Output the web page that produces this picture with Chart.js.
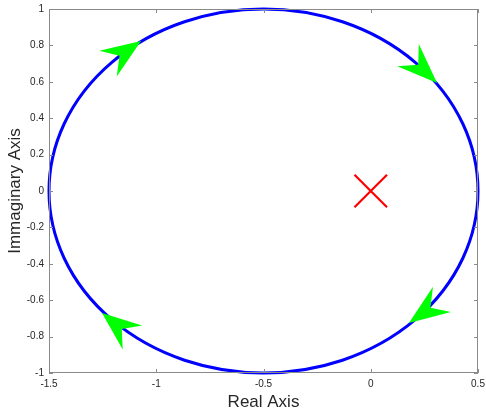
<!DOCTYPE html>
<html>
<head>
<meta charset="utf-8">
<script src="https://cdn.jsdelivr.net/npm/chart.js@4.4.0/dist/chart.umd.min.js"></script>
<style>
  html, body { margin: 0; padding: 0; background: #ffffff; }
  #wrap { width: 486px; height: 413px; }
</style>
</head>
<body>
<div id="wrap"><canvas id="c" width="486" height="413"></canvas></div>
<script>
// Axis ticks
const xTicks = [-1.5, -1, -0.5, 0, 0.5];
const yTicks = [-1, -0.8, -0.6, -0.4, -0.2, 0, 0.2, 0.4, 0.6, 0.8, 1];

// Nyquist contour: circle centre and radius (data units)
const circleCenter = [-0.5, 0];
const circleRadius = 1;

// Pole marker
const poleX = [0];
const poleY = [0];

// Direction arrows along the contour: tip and base point of each head
const arrowTipX  = [-1.071, 0.309, 0.178, -1.253];
const arrowTipY  = [ 0.824, 0.593, -0.725, -0.670];
const arrowBaseX = [-1.225, 0.174, 0.332, -1.111];
const arrowBaseY = [ 0.700, 0.747, -0.596, -0.805];

const AXIS_COLOR = '#8a8a8a';
const TEXT_COLOR = '#262626';

// Box around the plot with inward ticks on all four sides
const boxPlugin = {
  id: 'boxTicks',
  afterDraw(chart) {
    const { ctx, chartArea: a, scales } = chart;
    const xs = scales.x, ys = scales.y;
    const len = 4;
    ctx.save();
    ctx.strokeStyle = AXIS_COLOR;
    ctx.lineWidth = 1;
    ctx.strokeRect(a.left + 0.5, a.top + 0.5, a.right - a.left - 1, a.bottom - a.top - 1);
    ctx.beginPath();
    xTicks.forEach(v => {
      const px = Math.round(xs.getPixelForValue(v)) + 0.5;
      ctx.moveTo(px, a.bottom); ctx.lineTo(px, a.bottom - len);
      ctx.moveTo(px, a.top); ctx.lineTo(px, a.top + len);
    });
    yTicks.forEach(v => {
      const py = Math.round(ys.getPixelForValue(v)) + 0.5;
      ctx.moveTo(a.left, py); ctx.lineTo(a.left + len, py);
      ctx.moveTo(a.right, py); ctx.lineTo(a.right - len, py);
    });
    ctx.stroke();
    ctx.restore();
  }
};

// Contour circle and arrow heads, positioned through the scales
const contourPlugin = {
  id: 'contour',
  afterDatasetsDraw(chart) {
    const { ctx, scales } = chart;
    const xs = scales.x, ys = scales.y;
    const cx = xs.getPixelForValue(circleCenter[0]);
    const cy = ys.getPixelForValue(circleCenter[1]);
    const rx = Math.abs(xs.getPixelForValue(circleCenter[0] + circleRadius) - cx);
    const ry = Math.abs(ys.getPixelForValue(circleCenter[1] + circleRadius) - cy);
    ctx.save();
    ctx.strokeStyle = '#0000ff';
    ctx.lineWidth = 3;
    ctx.beginPath();
    ctx.ellipse(cx, cy, rx, ry, 0, 0, Math.PI * 2);
    ctx.stroke();

    ctx.fillStyle = '#00ff00';
    const halfW = 15.5;
    for (let i = 0; i < arrowTipX.length; i++) {
      const tx = xs.getPixelForValue(arrowTipX[i]);
      const ty = ys.getPixelForValue(arrowTipY[i]);
      const bx = xs.getPixelForValue(arrowBaseX[i]);
      const by = ys.getPixelForValue(arrowBaseY[i]);
      const dx = tx - bx, dy = ty - by;
      const L = Math.hypot(dx, dy);
      const ux = dx / L, uy = dy / L;
      const nx = -uy, ny = ux;
      const notch = 0.65 * L;
      ctx.beginPath();
      ctx.moveTo(tx, ty);
      ctx.lineTo(bx + nx * halfW, by + ny * halfW);
      ctx.lineTo(tx - ux * notch, ty - uy * notch);
      ctx.lineTo(bx - nx * halfW, by - ny * halfW);
      ctx.closePath();
      ctx.fill();
    }
    ctx.restore();
  }
};

const tickFont = { family: 'Liberation Sans, Arial, sans-serif', size: 10 };
const titleFont = { family: 'Liberation Sans, Arial, sans-serif', size: 17 };

function zeroPad(s) {
  s.paddingLeft = 0; s.paddingRight = 0; s.paddingTop = 0; s.paddingBottom = 0;
}

new Chart(document.getElementById('c'), {
  type: 'scatter',
  data: {
    datasets: [{
      label: 'Pole',
      data: poleX.map((x, i) => ({ x, y: poleY[i] })),
      pointStyle: 'crossRot',
      pointRadius: 23,
      pointHoverRadius: 23,
      borderColor: '#ff0000',
      backgroundColor: '#ff0000',
      pointBorderWidth: 2.2,
      pointHoverBorderWidth: 2.2
    }]
  },
  options: {
    responsive: false,
    animation: false,
    events: [],
    layout: { autoPadding: false, padding: { left: 0, right: 8, top: 9, bottom: 0 } },
    plugins: {
      legend: { display: false },
      tooltip: { enabled: false }
    },
    scales: {
      x: {
        type: 'linear',
        min: -1.5, max: 0.5,
        border: { display: false },
        grid: { display: false, drawTicks: false },
        afterBuildTicks: s => { s.ticks = xTicks.map(v => ({ value: v })); },
        afterFit: s => { s.height = 40; zeroPad(s); },
        ticks: {
          padding: 5,
          color: TEXT_COLOR,
          font: tickFont,
          maxRotation: 0,
          callback: v => String(v)
        },
        title: {
          display: true,
          text: 'Real Axis',
          color: TEXT_COLOR,
          font: titleFont,
          padding: { top: 0, bottom: 0 }
        }
      },
      y: {
        type: 'linear',
        min: -1, max: 1,
        border: { display: false },
        grid: { display: false, drawTicks: false },
        afterBuildTicks: s => { s.ticks = yTicks.map(v => ({ value: v })); },
        afterFit: s => { s.width = 49; zeroPad(s); },
        ticks: {
          padding: 5,
          color: TEXT_COLOR,
          font: tickFont,
          callback: v => String(Math.round(v * 10) / 10)
        },
        title: {
          display: true,
          text: 'Immaginary Axis',
          color: TEXT_COLOR,
          font: titleFont,
          padding: { top: 5, bottom: 0 }
        }
      }
    }
  },
  plugins: [boxPlugin, contourPlugin]
});
</script>
</body>
</html>
